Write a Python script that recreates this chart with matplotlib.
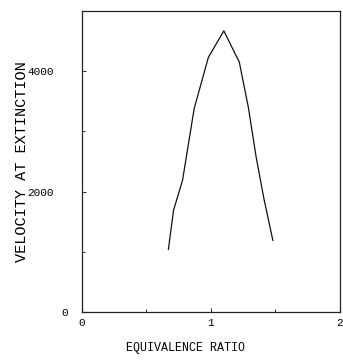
import matplotlib
matplotlib.use("Agg")
import matplotlib.pyplot as plt
from matplotlib.transforms import ScaledTranslation

# equivalence ratio vs velocity at extinction
phi = [0.67, 0.71, 0.78, 0.87, 0.98, 1.10, 1.22, 1.29, 1.35, 1.41, 1.48]
velocity = [1040, 1690, 2190, 3380, 4230, 4670, 4150, 3400, 2580, 1890, 1190]

xticks = [0, 1, 2]
yticks = [0, 2000, 4000]

plt.rcParams["font.family"] = ["Liberation Mono", "DejaVu Sans Mono"]

fig = plt.figure(figsize=(3.43, 3.63), dpi=100)
ax = fig.add_axes([0.239, 0.1405, 0.752, 0.8292])

ax.plot(phi, velocity, color="#111111", lw=0.9)

ax.set_xlim(0, 2)
ax.set_ylim(0, 5000)
ax.set_xticks(xticks)
ax.set_xticklabels([str(t) for t in xticks])
ax.set_yticks(yticks)
ax.set_yticklabels([str(t) for t in yticks])
ax.set_yticks([1000, 3000], minor=True)
ax.set_xticks([0.5, 1.5], minor=True)

ax.tick_params(direction="in", length=3, width=0.8, labelsize=8, color="#333333")
ax.tick_params(which="minor", direction="in", length=2, width=0.6)
ax.tick_params(axis="y", pad=20)
ax.tick_params(axis="x", pad=4)

for s in ax.spines.values():
    s.set_linewidth(0.9)
    s.set_color("#222222")

# the zero label sits closer to the axis in the original
for lab in ax.get_yticklabels():
    if lab.get_text() == "0":
        lab.set_transform(lab.get_transform() + ScaledTranslation(14 / 100, 0, fig.dpi_scale_trans))

ax.set_ylabel("VELOCITY AT EXTINCTION", fontsize=11)
ax.yaxis.set_label_coords(-0.205, 0.5)
ax.set_xlabel("EQUIVALENCE RATIO", fontsize=8.4)
ax.xaxis.set_label_coords(0.4, -0.10)

fig.savefig("out.png", dpi=100)
